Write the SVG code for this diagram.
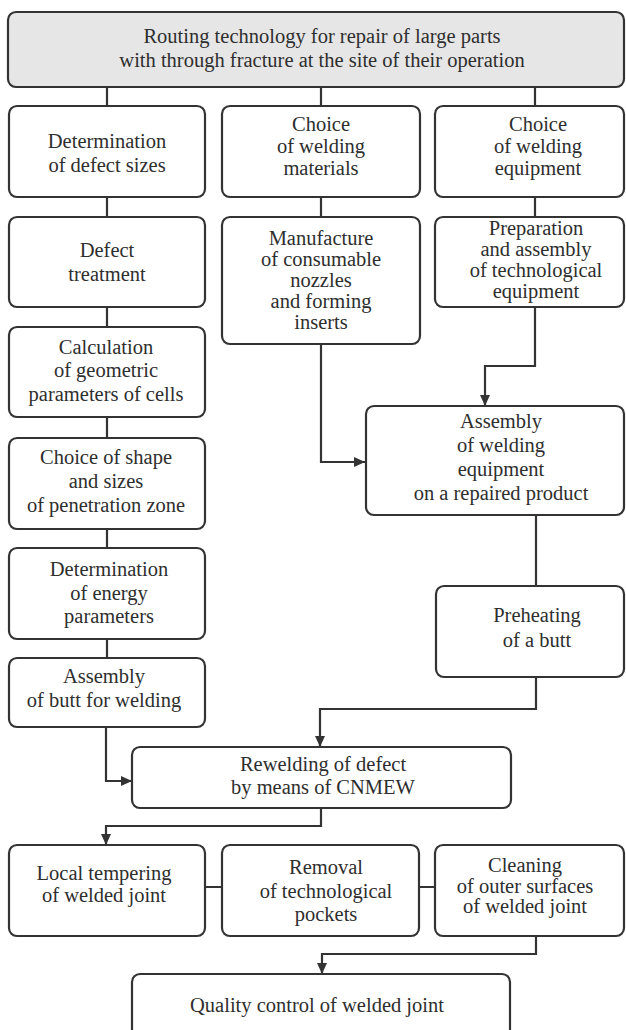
<svg xmlns="http://www.w3.org/2000/svg" width="626" height="1030" viewBox="0 0 626 1030">
<style>
.box{fill:#ffffff;stroke:#333333;stroke-width:2.2}
.head{fill:#e6e6e6;stroke:#333333;stroke-width:2.2}
.t{font-family:'Liberation Serif','Times New Roman',Tinos,'DejaVu Serif',serif;font-size:20.5px;fill:#2e2e2e;text-anchor:middle}
.c{fill:none;stroke:#333333;stroke-width:2.2}
</style>
<defs>
<marker id="arr" markerUnits="userSpaceOnUse" markerWidth="11" markerHeight="10" refX="11" refY="5" orient="auto">
<path d="M0,0 L11,5 L0,10 z" fill="#333333"/>
</marker>
</defs>
<rect width="626" height="1030" fill="#ffffff"/>

<g id="connectors">
<path class="c" d="M107,87 V106 M321,87 V106 M535,87 V106"/>
<path class="c" d="M107,197 V217 M321,197 V217 M535,197 V217"/>
<path class="c" d="M107,307 V327 M107,417 V438 M107,529 V548 M107,639 V658"/>
<path class="c" d="M321,344 V462 H365" marker-end="url(#arr)"/>
<path class="c" d="M535,307 V366 H485 V406" marker-end="url(#arr)"/>
<path class="c" d="M536,515 V586"/>
<path class="c" d="M536,677 V709 H320 V747" marker-end="url(#arr)"/>
<path class="c" d="M106,727 V781 H132" marker-end="url(#arr)"/>
<path class="c" d="M321,808 V826 H106 V845" marker-end="url(#arr)"/>
<path class="c" d="M205,887 H222 M419,887 H435"/>
<path class="c" d="M536,936 V954 H322 V974" marker-end="url(#arr)"/>
</g>

<g id="n_top">
<rect class="head" x="8" y="12" width="616" height="75" rx="8"/>
<text class="t" x="322" y="43" font-family="Liberation Serif">Routing technology for repair of large parts</text>
<text class="t" x="322" y="67">with through fracture at the site of their operation</text>
</g>

<g id="n_defect_sizes">
<rect class="box" x="9" y="106" width="196" height="91" rx="8"/>
<text class="t" x="107" y="148">Determination</text>
<text class="t" x="107" y="172">of defect sizes</text>
</g>

<g id="n_materials">
<rect class="box" x="222" y="106" width="198" height="91" rx="8"/>
<text class="t" x="321" y="131">Choice</text>
<text class="t" x="321" y="153">of welding</text>
<text class="t" x="321" y="175">materials</text>
</g>

<g id="n_equipment">
<rect class="box" x="435" y="106" width="189" height="91" rx="8"/>
<text class="t" x="538" y="131">Choice</text>
<text class="t" x="538" y="153">of welding</text>
<text class="t" x="538" y="175">equipment</text>
</g>

<g id="n_treatment">
<rect class="box" x="9" y="217" width="196" height="90" rx="8"/>
<text class="t" x="107" y="257">Defect</text>
<text class="t" x="107" y="281">treatment</text>
</g>

<g id="n_manufacture">
<rect class="box" x="222" y="217" width="198" height="127" rx="8"/>
<text class="t" x="321" y="245">Manufacture</text>
<text class="t" x="321" y="266">of consumable</text>
<text class="t" x="321" y="287">nozzles</text>
<text class="t" x="321" y="308">and forming</text>
<text class="t" x="321" y="329">inserts</text>
</g>

<g id="n_preparation">
<rect class="box" x="435" y="217" width="189" height="90" rx="8"/>
<text class="t" x="536" y="235">Preparation</text>
<text class="t" x="536" y="256">and assembly</text>
<text class="t" x="536" y="277">of technological</text>
<text class="t" x="536" y="298">equipment</text>
</g>

<g id="n_calculation">
<rect class="box" x="9" y="327" width="196" height="90" rx="8"/>
<text class="t" x="106" y="354">Calculation</text>
<text class="t" x="106" y="377">of geometric</text>
<text class="t" x="106" y="401">parameters of cells</text>
</g>

<g id="n_shape">
<rect class="box" x="9" y="438" width="196" height="91" rx="8"/>
<text class="t" x="106" y="464">Choice of shape</text>
<text class="t" x="106" y="488">and sizes</text>
<text class="t" x="106" y="512">of penetration zone</text>
</g>

<g id="n_energy">
<rect class="box" x="9" y="548" width="196" height="91" rx="8"/>
<text class="t" x="109" y="576">Determination</text>
<text class="t" x="109" y="600">of energy</text>
<text class="t" x="109" y="623">parameters</text>
</g>

<g id="n_butt">
<rect class="box" x="9" y="658" width="196" height="69" rx="8"/>
<text class="t" x="104" y="683">Assembly</text>
<text class="t" x="104" y="707">of butt for welding</text>
</g>

<g id="n_assembly_equipment">
<rect class="box" x="366" y="406" width="258" height="109" rx="8"/>
<text class="t" x="501" y="428">Assembly</text>
<text class="t" x="501" y="452">of welding</text>
<text class="t" x="501" y="476">equipment</text>
<text class="t" x="501" y="500">on a repaired product</text>
</g>

<g id="n_preheating">
<rect class="box" x="436" y="586" width="188" height="91" rx="8"/>
<text class="t" x="537" y="622">Preheating</text>
<text class="t" x="537" y="647">of a butt</text>
</g>

<g id="n_rewelding">
<rect class="box" x="132" y="747" width="379" height="61" rx="8"/>
<text class="t" x="323" y="771">Rewelding of defect</text>
<text class="t" x="323" y="794">by means of CNMEW</text>
</g>

<g id="n_tempering">
<rect class="box" x="9" y="845" width="196" height="91" rx="8"/>
<text class="t" x="104" y="880">Local tempering</text>
<text class="t" x="104" y="902">of welded joint</text>
</g>

<g id="n_removal">
<rect class="box" x="222" y="845" width="197" height="91" rx="8"/>
<text class="t" x="326" y="874">Removal</text>
<text class="t" x="326" y="898">of technological</text>
<text class="t" x="326" y="921">pockets</text>
</g>

<g id="n_cleaning">
<rect class="box" x="435" y="845" width="189" height="91" rx="8"/>
<text class="t" x="525" y="872">Cleaning</text>
<text class="t" x="525" y="893">of outer surfaces</text>
<text class="t" x="525" y="913">of welded joint</text>
</g>

<g id="n_quality">
<rect class="box" x="132" y="974" width="378" height="70" rx="8"/>
<text class="t" x="317" y="1012">Quality control of welded joint</text>
</g>
</svg>
